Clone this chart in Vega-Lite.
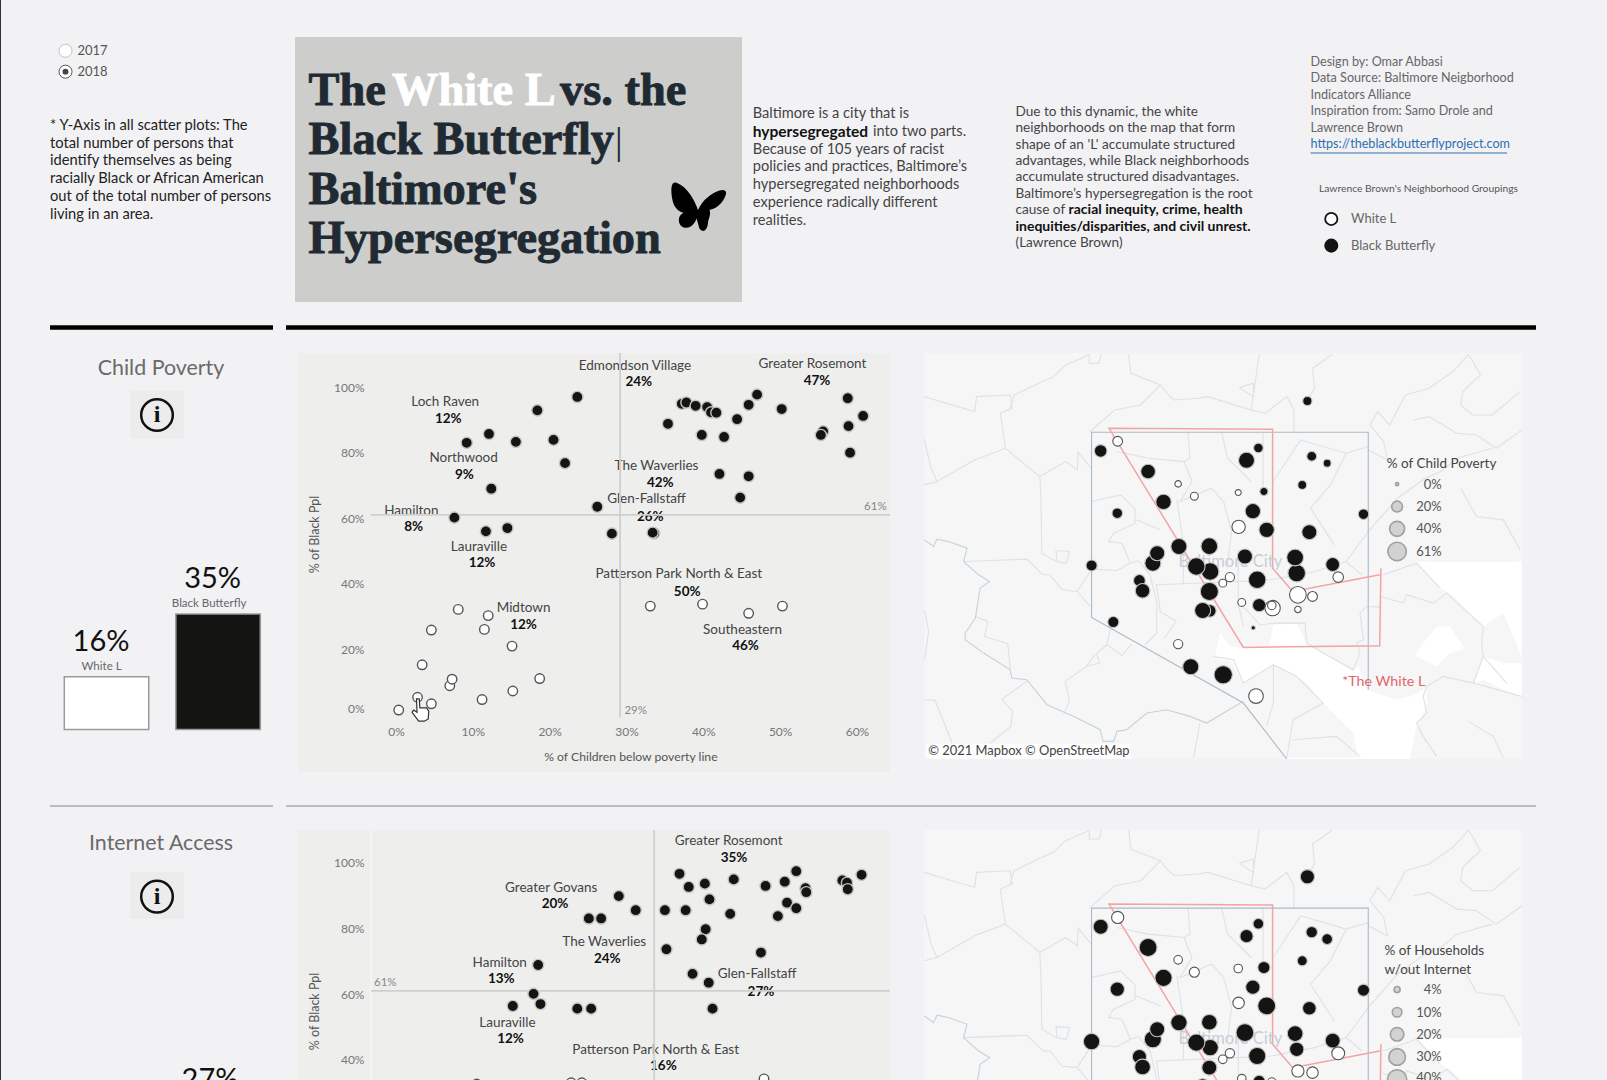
{
"$schema":"https://vega.github.io/schema/vega-lite/v6.json",
"padding":0,"background":"#f2f2f4","spacing":0,
"config":{"view":{"stroke":null},"font":"Lato","text":{"font":"Lato"},"axis":{"labelFont":"Lato","titleFont":"Lato"}},
"datasets":{
"cp":[{"pov":23.6,"blk":97,"g":"B"},{"pov":18.4,"blk":92.9,"g":"B"},{"pov":12.1,"blk":85.7,"g":"B"},{"pov":9.2,"blk":83,"g":"B"},{"pov":15.6,"blk":83.3,"g":"B"},{"pov":20.5,"blk":83.9,"g":"B"},{"pov":22,"blk":76.8,"g":"B"},{"pov":12.4,"blk":69,"g":"B"},{"pov":26.2,"blk":63.5,"g":"B"},{"pov":7.6,"blk":60.2,"g":"B"},{"pov":11.7,"blk":56,"g":"B"},{"pov":14.5,"blk":57,"g":"B"},{"pov":28.1,"blk":55.3,"g":"B"},{"pov":33.6,"blk":55.4,"g":"B"},{"pov":33.4,"blk":55.6,"g":"B"},{"pov":35.4,"blk":88.8,"g":"B"},{"pov":37.2,"blk":94.9,"g":"B"},{"pov":37.8,"blk":95.3,"g":"B"},{"pov":39,"blk":94.3,"g":"B"},{"pov":40.5,"blk":93.9,"g":"B"},{"pov":41,"blk":92.3,"g":"B"},{"pov":41.7,"blk":92.2,"g":"B"},{"pov":39.8,"blk":85.4,"g":"B"},{"pov":42.7,"blk":84.8,"g":"B"},{"pov":44.4,"blk":90.2,"g":"B"},{"pov":45.9,"blk":94.6,"g":"B"},{"pov":47,"blk":97.7,"g":"B"},{"pov":50.2,"blk":93.3,"g":"B"},{"pov":55.6,"blk":86.5,"g":"B"},{"pov":55.3,"blk":85.4,"g":"B"},{"pov":58.8,"blk":96.6,"g":"B"},{"pov":60.8,"blk":91.2,"g":"B"},{"pov":58.9,"blk":88.1,"g":"B"},{"pov":59.1,"blk":80,"g":"B"},{"pov":42.1,"blk":73.5,"g":"B"},{"pov":45.9,"blk":72.8,"g":"B"},{"pov":44.8,"blk":66.3,"g":"B"},
{"pov":8.1,"blk":32.2,"g":"W"},{"pov":12,"blk":30.3,"g":"W"},{"pov":4.6,"blk":25.9,"g":"W"},{"pov":11.5,"blk":26.1,"g":"W"},{"pov":15.1,"blk":21,"g":"W"},{"pov":3.4,"blk":15.3,"g":"W"},{"pov":7,"blk":8.9,"g":"W"},{"pov":7.3,"blk":10.9,"g":"W"},{"pov":18.7,"blk":11.1,"g":"W"},{"pov":15.2,"blk":7.3,"g":"W"},{"pov":11.2,"blk":4.7,"g":"W"},{"pov":2.8,"blk":5.4,"g":"W"},{"pov":4.6,"blk":3.4,"g":"W"},{"pov":0.35,"blk":1.5,"g":"W"},{"pov":33.1,"blk":33.2,"g":"W"},{"pov":39.9,"blk":33.8,"g":"W"},{"pov":45.9,"blk":31,"g":"W"},{"pov":50.3,"blk":33.2,"g":"W"}],
"cpLab":[{"pov":31.1,"blk":106.4,"t":"Edmondson Village","k":"n"},{"pov":31.6,"blk":101.6,"t":"24%","k":"b"},{"pov":54.2,"blk":107.1,"t":"Greater Rosemont","k":"n"},{"pov":54.8,"blk":101.8,"t":"47%","k":"b"},{"pov":6.4,"blk":95.4,"t":"Loch Raven","k":"n"},{"pov":6.8,"blk":90.2,"t":"12%","k":"b"},{"pov":8.8,"blk":78.4,"t":"Northwood","k":"n"},{"pov":8.9,"blk":73.2,"t":"9%","k":"b"},{"pov":2,"blk":62.2,"t":"Hamilton","k":"n"},{"pov":2.3,"blk":57.2,"t":"8%","k":"b"},{"pov":10.8,"blk":51.2,"t":"Lauraville","k":"n"},{"pov":11.2,"blk":46.2,"t":"12%","k":"b"},{"pov":33.9,"blk":75.9,"t":"The Waverlies","k":"n"},{"pov":34.4,"blk":70.8,"t":"42%","k":"b"},{"pov":32.6,"blk":65.8,"t":"Glen-Fallstaff","k":"n"},{"pov":33.1,"blk":60.5,"t":"26%","k":"b"},{"pov":36.8,"blk":42.9,"t":"Patterson Park North & East","k":"n"},{"pov":37.9,"blk":37.6,"t":"50%","k":"b"},{"pov":45.1,"blk":26,"t":"Southeastern","k":"n"},{"pov":45.5,"blk":20.9,"t":"46%","k":"b"},{"pov":16.6,"blk":32.5,"t":"Midtown","k":"n"},{"pov":16.6,"blk":27.4,"t":"12%","k":"b"},{"pov":62.4,"blk":63.5,"t":"61%","k":"r"},{"pov":31.2,"blk":1.3,"t":"29%","k":"r"}],
"ia":[{"pov":36.9,"blk":96.7,"g":"B"},{"pov":38.1,"blk":92.7,"g":"B"},{"pov":40.2,"blk":93.7,"g":"B"},{"pov":43.96,"blk":95,"g":"B"},{"pov":48.1,"blk":93,"g":"B"},{"pov":50.6,"blk":94.3,"g":"B"},{"pov":52.1,"blk":97.5,"g":"B"},{"pov":53.3,"blk":92.3,"g":"B"},{"pov":53.4,"blk":91.1,"g":"B"},{"pov":58.1,"blk":94.7,"g":"B"},{"pov":58.7,"blk":94,"g":"B"},{"pov":58.8,"blk":92,"g":"B"},{"pov":60.6,"blk":96.4,"g":"B"},{"pov":40.8,"blk":88.9,"g":"B"},{"pov":29,"blk":89.9,"g":"B"},{"pov":31.2,"blk":85.6,"g":"B"},{"pov":35,"blk":85.6,"g":"B"},{"pov":37.7,"blk":85.6,"g":"B"},{"pov":43.5,"blk":84.5,"g":"B"},{"pov":49.7,"blk":83.8,"g":"B"},{"pov":50.9,"blk":87.9,"g":"B"},{"pov":52.1,"blk":86.2,"g":"B"},{"pov":25.1,"blk":83.1,"g":"B"},{"pov":26.7,"blk":83.1,"g":"B"},{"pov":40.3,"blk":79.8,"g":"B"},{"pov":39.8,"blk":76.7,"g":"B"},{"pov":35.2,"blk":73.7,"g":"B"},{"pov":47.5,"blk":72.7,"g":"B"},{"pov":18.5,"blk":68.9,"g":"B"},{"pov":38.6,"blk":66.2,"g":"B"},{"pov":40.7,"blk":63.5,"g":"B"},{"pov":17.9,"blk":60.1,"g":"B"},{"pov":18.8,"blk":57,"g":"B"},{"pov":15.2,"blk":56.4,"g":"B"},{"pov":23.6,"blk":55.6,"g":"B"},{"pov":25.4,"blk":55.6,"g":"B"},{"pov":41.2,"blk":55.6,"g":"B"},{"pov":10.5,"blk":32.6,"g":"W"},{"pov":22.8,"blk":33,"g":"W"},{"pov":24.2,"blk":33,"g":"W"},{"pov":47.9,"blk":34.2,"g":"W"}],
"iaLab":[{"pov":43.3,"blk":106.8,"t":"Greater Rosemont","k":"n"},{"pov":44,"blk":101.6,"t":"35%","k":"b"},{"pov":20.2,"blk":92.5,"t":"Greater Govans","k":"n"},{"pov":20.7,"blk":87.4,"t":"20%","k":"b"},{"pov":27.1,"blk":75.8,"t":"The Waverlies","k":"n"},{"pov":27.5,"blk":70.8,"t":"24%","k":"b"},{"pov":13.5,"blk":69.6,"t":"Hamilton","k":"n"},{"pov":13.7,"blk":64.7,"t":"13%","k":"b"},{"pov":47,"blk":66.1,"t":"Glen-Fallstaff","k":"n"},{"pov":47.5,"blk":60.8,"t":"27%","k":"b"},{"pov":14.5,"blk":51.2,"t":"Lauraville","k":"n"},{"pov":14.9,"blk":46.2,"t":"12%","k":"b"},{"pov":33.8,"blk":43.1,"t":"Patterson Park North & East","k":"n"},{"pov":34.8,"blk":38.1,"t":"16%","k":"b"},{"pov":-1.4,"blk":63.4,"t":"61%","k":"r"}],
"water":[
{"p":"a","mx":758,"my":935,"my2":935},{"p":"a","mx":771,"my":865,"my2":945},{"p":"a","mx":796,"my":905,"my2":945},{"p":"a","mx":830,"my":910,"my2":1015},{"p":"a","mx":895,"my":905,"my2":965},{"p":"a","mx":906,"my":840,"my2":960},{"p":"a","mx":965,"my":837,"my2":995},{"p":"a","mx":990,"my":895,"my2":1015},{"p":"a","mx":1032,"my":925,"my2":1075},{"p":"a","mx":1108,"my":980,"my2":1165},{"p":"a","mx":1121,"my":965,"my2":1243},{"p":"a","mx":1142,"my":1035,"my2":1243},{"p":"a","mx":1218,"my":1065,"my2":1243},{"p":"a","mx":1252,"my":1055,"my2":1243},{"p":"a","mx":1268,"my":1045,"my2":1145},{"p":"a","mx":1294,"my":1030,"my2":1085},
{"p":"b","mx":1269,"my":650,"my2":650},{"p":"b","mx":1328,"my":652,"my2":730},{"p":"b","mx":1353,"my":652,"my2":745},{"p":"b","mx":1437,"my":652,"my2":845},{"p":"b","mx":1488,"my":652,"my2":805},{"p":"b","mx":1534,"my":650,"my2":935},
{"p":"c","mx":1412,"my":1015,"my2":1020},{"p":"c","mx":1437,"my":935,"my2":1005},{"p":"c","mx":1488,"my":955,"my2":1035},{"p":"c","mx":1534,"my":955,"my2":1055},
{"p":"d","mx":1268,"my":920,"my2":935},{"p":"d","mx":1319,"my":845,"my2":965},{"p":"d","mx":1353,"my":845,"my2":925},{"p":"d","mx":1387,"my":905,"my2":915},
{"p":"e","mx":920,"my":1175,"my2":1175},{"p":"e","mx":940,"my":1240,"my2":1243},{"p":"e","mx":1125,"my":1240,"my2":1243}],
"roads":[
{"id":1,"mx":22,"my":155},{"id":1,"mx":150,"my":200},{"id":1,"mx":155,"my":155},{"id":1,"mx":240,"my":150},{"id":1,"mx":245,"my":190},{"id":1,"mx":215,"my":205},{"id":1,"mx":228,"my":310},{"id":1,"mx":150,"my":345},{"id":1,"mx":55,"my":410},{"id":1,"mx":22,"my":420},
{"id":2,"mx":22,"my":280},{"id":2,"mx":40,"my":370},{"id":2,"mx":55,"my":410},
{"id":3,"mx":240,"my":190},{"id":3,"mx":250,"my":150},{"id":3,"mx":320,"my":110},{"id":3,"mx":350,"my":95},{"id":3,"mx":380,"my":60},{"id":3,"mx":420,"my":40},{"id":3,"mx":440,"my":28},{"id":3,"mx":440,"my":55},{"id":3,"mx":465,"my":55},{"id":3,"mx":470,"my":28},
{"id":4,"mx":228,"my":310},{"id":4,"mx":315,"my":395},{"id":4,"mx":380,"my":350},{"id":4,"mx":410,"my":375},{"id":4,"mx":412,"my":322},{"id":4,"mx":445,"my":370},
{"id":5,"mx":315,"my":395},{"id":5,"mx":318,"my":465},{"id":5,"mx":320,"my":625},{"id":5,"mx":358,"my":650},{"id":5,"mx":356,"my":617},{"id":5,"mx":390,"my":620},{"id":5,"mx":382,"my":655},{"id":5,"mx":358,"my":650},
{"id":6,"mx":540,"my":28},{"id":6,"mx":545,"my":85},{"id":6,"mx":620,"my":120},{"id":6,"mx":640,"my":150},{"id":6,"mx":655,"my":165},{"id":6,"mx":715,"my":160},{"id":6,"mx":740,"my":155},{"id":6,"mx":850,"my":195},{"id":6,"mx":870,"my":28},
{"id":7,"mx":620,"my":120},{"id":7,"mx":570,"my":180},{"id":7,"mx":505,"my":195},{"id":7,"mx":440,"my":262},
{"id":8,"mx":850,"my":195},{"id":8,"mx":885,"my":205},{"id":8,"mx":940,"my":155},{"id":8,"mx":958,"my":195},{"id":8,"mx":958,"my":262},
{"id":9,"mx":1055,"my":28},{"id":9,"mx":1005,"my":70},{"id":9,"mx":1010,"my":130},{"id":9,"mx":992,"my":168},
{"id":10,"mx":820,"my":128},{"id":10,"mx":855,"my":115},{"id":10,"mx":855,"my":155},{"id":10,"mx":820,"my":128},
{"id":12,"mx":122,"my":650},{"id":12,"mx":282,"my":643},{"id":12,"mx":323,"my":690},{"id":12,"mx":341,"my":690},{"id":12,"mx":371,"my":735},{"id":12,"mx":409,"my":740},{"id":12,"mx":443,"my":785},
{"id":13,"mx":409,"my":740},{"id":13,"mx":443,"my":680},
{"id":14,"mx":1146,"my":315},{"id":14,"mx":1195,"my":345},{"id":14,"mx":1185,"my":290},{"id":14,"mx":1150,"my":240},{"id":14,"mx":1170,"my":200},{"id":14,"mx":1200,"my":240},{"id":14,"mx":1240,"my":150},{"id":14,"mx":1300,"my":130},{"id":14,"mx":1360,"my":80},{"id":14,"mx":1400,"my":28},
{"id":15,"mx":1400,"my":28},{"id":15,"mx":1430,"my":90},{"id":15,"mx":1385,"my":140},{"id":15,"mx":1380,"my":180},{"id":15,"mx":1410,"my":210},{"id":15,"mx":1460,"my":210},{"id":15,"mx":1530,"my":140},
{"id":16,"mx":1260,"my":225},{"id":16,"mx":1300,"my":215},{"id":16,"mx":1370,"my":265},{"id":16,"mx":1420,"my":270},{"id":16,"mx":1470,"my":310},{"id":16,"mx":1535,"my":255},
{"id":17,"mx":1146,"my":560},{"id":17,"mx":1220,"my":460},{"id":17,"mx":1290,"my":400},{"id":17,"mx":1330,"my":380},{"id":17,"mx":1370,"my":340},{"id":17,"mx":1460,"my":310},
{"id":18,"mx":1146,"my":560},{"id":18,"mx":1090,"my":650},
{"id":19,"mx":1380,"my":430},{"id":19,"mx":1420,"my":515},{"id":19,"mx":1488,"my":525},{"id":19,"mx":1530,"my":615},
{"id":20,"mx":447,"my":673},{"id":20,"mx":510,"my":677},{"id":20,"mx":544,"my":655},{"id":20,"mx":523,"my":595},{"id":20,"mx":489,"my":590},{"id":20,"mx":502,"my":565},{"id":20,"mx":556,"my":535},{"id":20,"mx":556,"my":493},{"id":20,"mx":520,"my":450},{"id":20,"mx":446,"my":470},
{"id":41,"mx":559,"my":525},{"id":41,"mx":620,"my":555},
{"id":42,"mx":544,"my":655},{"id":42,"mx":565,"my":648},{"id":42,"mx":594,"my":690},{"id":42,"mx":611,"my":775},{"id":42,"mx":611,"my":865},{"id":42,"mx":581,"my":900},
{"id":21,"mx":510,"my":320},{"id":21,"mx":590,"my":340},{"id":21,"mx":680,"my":350},{"id":21,"mx":700,"my":410},{"id":21,"mx":670,"my":470},{"id":21,"mx":750,"my":430},{"id":21,"mx":780,"my":470},
{"id":22,"mx":690,"my":262},{"id":22,"mx":695,"my":340},{"id":22,"mx":680,"my":350},
{"id":23,"mx":775,"my":262},{"id":23,"mx":790,"my":340},{"id":23,"mx":850,"my":410},
{"id":24,"mx":880,"my":262},{"id":24,"mx":880,"my":430},
{"id":26,"mx":975,"my":285},{"id":26,"mx":1090,"my":325},{"id":26,"mx":1050,"my":420},{"id":26,"mx":1000,"my":490},{"id":26,"mx":1060,"my":600},
{"id":25,"mx":1090,"my":325},{"id":25,"mx":1146,"my":305},
{"id":27,"mx":905,"my":410},{"id":27,"mx":975,"my":285},
{"id":28,"mx":780,"my":470},{"id":28,"mx":800,"my":560},{"id":28,"mx":790,"my":660},
{"id":43,"mx":662,"my":465},{"id":43,"mx":678,"my":595},{"id":43,"mx":678,"my":715},
{"id":29,"mx":607,"my":720},{"id":29,"mx":820,"my":710},{"id":29,"mx":900,"my":705},{"id":29,"mx":1010,"my":680},{"id":29,"mx":1090,"my":650},{"id":29,"mx":1130,"my":690},
{"id":30,"mx":1184,"my":690},{"id":30,"mx":1268,"my":655},{"id":30,"mx":1328,"my":730},
{"id":31,"mx":817,"my":615},{"id":31,"mx":817,"my":775},{"id":31,"mx":830,"my":845},
{"id":32,"mx":610,"my":720},{"id":32,"mx":620,"my":800},{"id":32,"mx":660,"my":830},{"id":32,"mx":630,"my":880},
{"id":33,"mx":152,"my":815},{"id":33,"mx":184,"my":830},{"id":33,"mx":175,"my":875},{"id":33,"mx":234,"my":897},{"id":33,"mx":240,"my":975},
{"id":34,"mx":282,"my":1010},{"id":34,"mx":219,"my":1063},{"id":34,"mx":246,"my":1100},{"id":34,"mx":242,"my":1145},{"id":34,"mx":190,"my":1195},
{"id":35,"mx":1176,"my":755},{"id":35,"mx":1235,"my":775},{"id":35,"mx":1243,"my":750},{"id":35,"mx":1311,"my":775},{"id":35,"mx":1344,"my":745},{"id":35,"mx":1437,"my":845},{"id":35,"mx":1433,"my":895},{"id":35,"mx":1437,"my":935},{"id":35,"mx":1412,"my":1015},{"id":35,"mx":1336,"my":995},{"id":35,"mx":1294,"my":1025},{"id":35,"mx":1285,"my":1055},{"id":35,"mx":1294,"my":1105},{"id":35,"mx":1268,"my":1135},{"id":35,"mx":1285,"my":1175},{"id":35,"mx":1319,"my":1235},
{"id":36,"mx":1399,"my":1130},{"id":36,"mx":1462,"my":1175},{"id":36,"mx":1488,"my":1240},
{"id":37,"mx":1125,"my":805},{"id":37,"mx":1134,"my":885},{"id":37,"mx":1117,"my":895},{"id":37,"mx":1125,"my":925},{"id":37,"mx":1108,"my":975},{"id":37,"mx":1032,"my":925},{"id":37,"mx":990,"my":895},{"id":37,"mx":986,"my":835},{"id":37,"mx":914,"my":835},{"id":37,"mx":872,"my":840},{"id":37,"mx":822,"my":775},
{"id":44,"mx":1125,"my":805},{"id":44,"mx":1142,"my":785},{"id":44,"mx":1176,"my":787},
{"id":38,"mx":754,"my":935},{"id":38,"mx":805,"my":945},{"id":38,"mx":830,"my":1015},{"id":38,"mx":906,"my":960},{"id":38,"mx":965,"my":995},{"id":38,"mx":1032,"my":1075},{"id":38,"mx":956,"my":1125},{"id":38,"mx":940,"my":1240},
{"id":45,"mx":906,"my":960},{"id":45,"mx":906,"my":1075},{"id":45,"mx":889,"my":1145},
{"id":46,"mx":704,"my":1240},{"id":46,"mx":720,"my":1135},
{"id":47,"mx":956,"my":1185},{"id":47,"mx":1066,"my":1175},{"id":47,"mx":1125,"my":1235},
{"id":48,"mx":1412,"my":1015},{"id":48,"mx":1534,"my":1055},
{"id":49,"mx":1437,"my":935},{"id":49,"mx":1496,"my":1015},
{"id":39,"mx":23,"my":795},{"id":39,"mx":34,"my":860},{"id":39,"mx":23,"my":945},
{"id":50,"mx":23,"my":1065},{"id":50,"mx":50,"my":1067},{"id":50,"mx":93,"my":1195},
{"id":51,"mx":493,"my":853},{"id":51,"mx":485,"my":900},{"id":51,"mx":523,"my":932},{"id":51,"mx":548,"my":897},
{"id":52,"mx":485,"my":900},{"id":52,"mx":459,"my":925},{"id":52,"mx":466,"my":955},{"id":52,"mx":434,"my":965},{"id":52,"mx":455,"my":928},
{"id":53,"mx":434,"my":965},{"id":53,"mx":379,"my":1010},{"id":53,"mx":390,"my":1065},{"id":53,"mx":379,"my":1100}],
"river":[{"id":1,"mx":23,"my":585},{"id":1,"mx":46,"my":605},{"id":1,"mx":55,"my":583},{"id":1,"mx":84,"my":590},{"id":1,"mx":131,"my":610},{"id":1,"mx":122,"my":650},{"id":1,"mx":160,"my":690},{"id":1,"mx":188,"my":710},{"id":1,"mx":164,"my":730},{"id":1,"mx":152,"my":820},{"id":1,"mx":126,"my":865},{"id":1,"mx":126,"my":885},{"id":1,"mx":173,"my":925},{"id":1,"mx":240,"my":975},{"id":1,"mx":244,"my":1000},{"id":1,"mx":282,"my":1005},{"id":1,"mx":333,"my":1080},{"id":1,"mx":400,"my":1115},{"id":1,"mx":468,"my":1155},{"id":1,"mx":475,"my":1190},{"id":1,"mx":502,"my":1190},{"id":1,"mx":510,"my":1160},{"id":1,"mx":535,"my":1155},{"id":1,"mx":586,"my":1105},{"id":1,"mx":636,"my":1095},{"id":1,"mx":695,"my":1115},{"id":1,"mx":737,"my":1135},{"id":1,"mx":780,"my":1105},{"id":1,"mx":830,"my":1070}],
"city":[{"id":1,"mx":1146,"my":1035},{"id":1,"mx":1146,"my":262},{"id":1,"mx":446,"my":262},{"id":1,"mx":446,"my":818},{"id":1,"mx":830,"my":1075},{"id":1,"mx":940,"my":1243}],
"ell":[{"id":1,"mx":1175,"my":690},{"id":1,"mx":955,"my":740},{"id":1,"mx":904,"my":670},{"id":1,"mx":904,"my":253},{"id":1,"mx":490,"my":250},{"id":1,"mx":830,"my":908},{"id":1,"mx":1175,"my":903},{"id":1,"mx":1178,"my":670}],
"m1":[{"mx":992,"my":168,"v":13.7,"g":"B"},{"mx":868,"my":309,"v":15,"g":"B"},{"mx":838,"my":346,"v":46,"g":"B"},{"mx":1003,"my":334,"v":16,"g":"B"},{"mx":1042,"my":355,"v":9.5,"g":"B"},{"mx":469,"my":318,"v":27.5,"g":"B"},{"mx":589,"my":380,"v":38,"g":"B"},{"mx":628,"my":471,"v":42,"g":"B"},{"mx":882,"my":440,"v":10.5,"g":"B"},{"mx":979,"my":420,"v":12.6,"g":"B"},{"mx":854,"my":499,"v":42,"g":"B"},{"mx":1134,"my":508,"v":18.7,"g":"B"},{"mx":511,"my":505,"v":18.7,"g":"B"},{"mx":889,"my":555,"v":42,"g":"B"},{"mx":997,"my":562,"v":40,"g":"B"},{"mx":744,"my":604,"v":50,"g":"B"},{"mx":667,"my":605,"v":46,"g":"B"},{"mx":601,"my":655,"v":46,"g":"B"},{"mx":612,"my":625,"v":40,"g":"B"},{"mx":834,"my":635,"v":40,"g":"B"},{"mx":965,"my":685,"v":55,"g":"B"},{"mx":961,"my":638,"v":50,"g":"B"},{"mx":1056,"my":659,"v":34,"g":"B"},{"mx":446,"my":662,"v":21,"g":"B"},{"mx":746,"my":680,"v":55,"g":"B"},{"mx":711,"my":665,"v":55,"g":"B"},{"mx":865,"my":705,"v":55,"g":"B"},{"mx":567,"my":707,"v":24,"g":"B"},{"mx":575,"my":738,"v":38,"g":"B"},{"mx":744,"my":740,"v":59,"g":"B"},{"mx":745,"my":798,"v":28,"g":"B"},{"mx":727,"my":797,"v":46,"g":"B"},{"mx":870,"my":781,"v":31,"g":"B"},{"mx":501,"my":832,"v":21,"g":"B"},{"mx":855,"my":849,"v":1.5,"g":"B"},{"mx":697,"my":966,"v":46,"g":"B"},{"mx":779,"my":990,"v":60,"g":"B"},
{"mx":512,"my":289,"v":16,"g":"W"},{"mx":665,"my":417,"v":6,"g":"W"},{"mx":706,"my":454,"v":9.5,"g":"W"},{"mx":817,"my":443,"v":4.7,"g":"W"},{"mx":818,"my":546,"v":31,"g":"W"},{"mx":796,"my":697,"v":14,"g":"W"},{"mx":778,"my":715,"v":9.5,"g":"W"},{"mx":826,"my":773,"v":9.5,"g":"W"},{"mx":904,"my":790,"v":42,"g":"W"},{"mx":902,"my":782,"v":11.5,"g":"W"},{"mx":968,"my":750,"v":50,"g":"W"},{"mx":1005,"my":755,"v":16,"g":"W"},{"mx":1070,"my":697,"v":18.7,"g":"W"},{"mx":968,"my":794,"v":6,"g":"W"},{"mx":665,"my":898,"v":14,"g":"W"},{"mx":862,"my":1054,"v":38,"g":"W"}],
"m2":[{"mx":992,"my":168,"v":22.1,"g":"B"},{"mx":868,"my":309,"v":12.5,"g":"B"},{"mx":838,"my":346,"v":18.9,"g":"B"},{"mx":1003,"my":334,"v":14.2,"g":"B"},{"mx":1042,"my":355,"v":12.5,"g":"B"},{"mx":469,"my":318,"v":24.4,"g":"B"},{"mx":589,"my":380,"v":34.6,"g":"B"},{"mx":628,"my":471,"v":31.9,"g":"B"},{"mx":882,"my":440,"v":16,"g":"B"},{"mx":979,"my":420,"v":10.9,"g":"B"},{"mx":854,"my":499,"v":22.1,"g":"B"},{"mx":1134,"my":508,"v":16,"g":"B"},{"mx":511,"my":505,"v":22.1,"g":"B"},{"mx":889,"my":555,"v":34.6,"g":"B"},{"mx":997,"my":562,"v":20,"g":"B"},{"mx":744,"my":604,"v":26.8,"g":"B"},{"mx":667,"my":605,"v":29.3,"g":"B"},{"mx":601,"my":655,"v":31.9,"g":"B"},{"mx":612,"my":625,"v":24.4,"g":"B"},{"mx":834,"my":635,"v":34.6,"g":"B"},{"mx":965,"my":685,"v":22.1,"g":"B"},{"mx":961,"my":638,"v":26.8,"g":"B"},{"mx":1056,"my":659,"v":24.4,"g":"B"},{"mx":446,"my":662,"v":29.3,"g":"B"},{"mx":746,"my":680,"v":29.3,"g":"B"},{"mx":711,"my":665,"v":31.9,"g":"B"},{"mx":865,"my":705,"v":31.9,"g":"B"},{"mx":567,"my":707,"v":22.1,"g":"B"},{"mx":575,"my":738,"v":26.8,"g":"B"},{"mx":744,"my":740,"v":24.4,"g":"B"},{"mx":727,"my":797,"v":26.8,"g":"B"},{"mx":870,"my":781,"v":16,"g":"B"},
{"mx":512,"my":290,"v":16,"g":"W"},{"mx":665,"my":417,"v":8,"g":"W"},{"mx":706,"my":454,"v":10.9,"g":"W"},{"mx":817,"my":443,"v":8,"g":"W"},{"mx":818,"my":546,"v":14.2,"g":"W"},{"mx":796,"my":697,"v":9.4,"g":"W"},{"mx":778,"my":715,"v":8,"g":"W"},{"mx":826,"my":773,"v":8,"g":"W"},{"mx":904,"my":790,"v":12.5,"g":"W"},{"mx":902,"my":782,"v":6.7,"g":"W"},{"mx":968,"my":750,"v":16,"g":"W"},{"mx":1005,"my":755,"v":14.2,"g":"W"},{"mx":1070,"my":697,"v":17.9,"g":"W"}]
},
"hconcat":[
{"width":1,"height":1080,"data":{"values":[{"a":0,"b":1}]},"mark":{"type":"rule","color":"#333333","strokeWidth":1.5,"clip":true},"encoding":{"y":{"field":"a","type":"quantitative","scale":{"domain":[0,1]},"axis":null},"y2":{"field":"b"}}},
{"spacing":0,"vconcat":[
{"bounds":"flush","spacing":0,"hconcat":[
{"width":294,"height":325,"encoding":{"x":{"field":"col","type":"quantitative","scale":{"domain":[0,294]},"axis":null},"y":{"field":"line","type":"quantitative","scale":{"domain":[12.24,-6.12]},"axis":null}},
"layer":[
{"data":{"values":[{"col":49,"line":1,"t":"* Y-Axis in all scatter plots: The"},{"col":49,"line":2,"t":"total number of persons that"},{"col":49,"line":3,"t":"identify themselves as being"},{"col":49,"line":4,"t":"racially Black or African American"},{"col":49,"line":5,"t":"out of the total number of persons"},{"col":49,"line":6,"t":"living in an area."}]},"mark":{"type":"text","align":"left","baseline":"middle","fontSize":14.7,"color":"#222222"},"encoding":{"text":{"field":"t"}}},
{"data":{"values":[{"col":76.5,"line":-3.25,"t":"2017"},{"col":76.5,"line":-2.07,"t":"2018"}]},"mark":{"type":"text","align":"left","baseline":"middle","fontSize":13,"color":"#555555"},"encoding":{"text":{"field":"t"}}},
{"data":{"values":[{"col":64.5,"line":-3.25,"s":"off"},{"col":64.5,"line":-2.07,"s":"on"}]},"mark":{"type":"point","filled":false,"size":170,"strokeWidth":1,"fill":"#ffffff","fillOpacity":1},"encoding":{"stroke":{"field":"s","type":"nominal","scale":{"domain":["off","on"],"range":["#c4c4c4","#555555"]},"legend":null}}},
{"data":{"values":[{"col":64.5,"line":-2.07}]},"mark":{"type":"circle","size":34,"color":"#444444","opacity":1}}
]},
{"width":447,"height":325,"encoding":{"x":{"field":"col","type":"quantitative","scale":{"domain":[0,447]},"axis":null},"y":{"field":"line","type":"quantitative","scale":{"domain":[5.462,-1.13]},"axis":null}},
"layer":[
{"data":{"values":[{"col":0,"col2":447,"line":-0.379,"line2":4.996}]},"mark":{"type":"rect","color":"#cdcdcb"},"encoding":{"x2":{"field":"col2"},"y2":{"field":"line2"}}},
{"data":{"values":[{"col":13.6,"line":1,"t":"The"},{"col":265,"line":1,"t":"vs. the"},{"col":13.6,"line":2,"t":"Black Butterfly"},{"col":13.6,"line":3,"t":"Baltimore's"},{"col":13.6,"line":4,"t":"Hypersegregation"}]},"mark":{"type":"text","align":"left","baseline":"alphabetic","font":"Liberation Serif","fontWeight":"bold","fontSize":46.4,"fill":"#1f2a33","stroke":"#1f2a33","strokeWidth":0.9},"encoding":{"text":{"field":"t"}}},
{"data":{"values":[{"col":97,"line":1,"t":"White L"}]},"mark":{"type":"text","align":"left","baseline":"alphabetic","font":"Liberation Serif","fontWeight":"bold","fontSize":46.4,"fill":"#ffffff","stroke":"#ffffff","strokeWidth":0.9},"encoding":{"text":{"field":"t"}}},
{"data":{"values":[{"col":320,"line":2,"t":"|"}]},"mark":{"type":"text","align":"left","baseline":"alphabetic","font":"Liberation Serif","fontSize":38,"fill":"#1f2a33"},"encoding":{"text":{"field":"t"}}},
{"data":{"values":[{"col":403,"line":3.07}]},"mark":{"type":"point","filled":true,"opacity":1,"color":"#000000","size":3300,"shape":"M0,0.1 C-0.1,-0.2 -0.35,-0.7 -0.75,-0.85 C-0.95,-0.9 -0.95,-0.6 -0.9,-0.3 C-0.85,0 -0.7,0.15 -0.5,0.2 C-0.75,0.3 -0.7,0.7 -0.45,0.72 C-0.25,0.75 -0.1,0.55 -0.05,0.4 L0.05,0.75 C0.2,0.95 0.35,0.75 0.35,0.5 C0.4,0.35 0.45,0.2 0.4,0.1 C0.7,0.05 0.95,-0.25 0.98,-0.5 C0.95,-0.7 0.6,-0.55 0.35,-0.35 C0.2,-0.25 0.1,-0.1 0,0.1 Z"}}
]},
{"width":273,"height":325,"encoding":{"x":{"field":"col","type":"quantitative","scale":{"domain":[0,273]},"axis":null},"y":{"field":"line","type":"quantitative","scale":{"domain":[12.8,-5.35]},"axis":null}},
"layer":[
{"data":{"values":[{"col":10.8,"line":1,"t":"Baltimore is a city that is"},{"col":131,"line":2,"t":"into two parts."},{"col":10.8,"line":3,"t":"Because of 105 years of racist"},{"col":10.8,"line":4,"t":"policies and practices, Baltimore’s"},{"col":10.8,"line":5,"t":"hypersegregated neighborhoods"},{"col":10.8,"line":6,"t":"experience radically different"},{"col":10.8,"line":7,"t":"realities."}]},"mark":{"type":"text","align":"left","baseline":"middle","fontSize":14.6,"color":"#444444"},"encoding":{"text":{"field":"t"}}},
{"data":{"values":[{"col":10.8,"line":2,"t":"hypersegregated"}]},"mark":{"type":"text","align":"left","baseline":"middle","fontSize":15.5,"fontWeight":"bold","color":"#111111"},"encoding":{"text":{"field":"t"}}}
]},
{"width":295,"height":325,"encoding":{"x":{"field":"col","type":"quantitative","scale":{"domain":[0,295]},"axis":null},"y":{"field":"line","type":"quantitative","scale":{"domain":[14,-5.81]},"axis":null}},
"layer":[
{"data":{"values":[{"col":0.5,"line":1,"t":"Due to this dynamic, the white"},{"col":0.5,"line":2,"t":"neighborhoods on the map that form"},{"col":0.5,"line":3,"t":"shape of an 'L' accumulate structured"},{"col":0.5,"line":4,"t":"advantages, while Black neighborhoods"},{"col":0.5,"line":5,"t":"accumulate structured disadvantages."},{"col":0.5,"line":6,"t":"Baltimore’s hypersegregation is the root"},{"col":0.5,"line":7,"t":"cause of"},{"col":0.5,"line":9,"t":"(Lawrence Brown)"}]},"mark":{"type":"text","align":"left","baseline":"middle","fontSize":13.6,"color":"#444444"},"encoding":{"text":{"field":"t"}}},
{"data":{"values":[{"col":53.6,"line":7,"t":"racial inequity, crime, health"},{"col":0.5,"line":8,"t":"inequities/disparities, and civil unrest."}]},"mark":{"type":"text","align":"left","baseline":"middle","fontSize":14,"fontWeight":"bold","color":"#111111"},"encoding":{"text":{"field":"t"}}}
]},
{"width":296,"height":325,"encoding":{"x":{"field":"col","type":"quantitative","scale":{"domain":[0,296]},"axis":null},"y":{"field":"line","type":"quantitative","scale":{"domain":[17.04,-2.78]},"axis":null}},
"layer":[
{"data":{"values":[{"col":0.5,"line":1,"t":"Design by: Omar Abbasi"},{"col":0.5,"line":2,"t":"Data Source: Baltimore Neigborhood"},{"col":0.5,"line":3,"t":"Indicators Alliance"},{"col":0.5,"line":4,"t":"Inspiration from: Samo Drole and"},{"col":0.5,"line":5,"t":"Lawrence Brown"}]},"mark":{"type":"text","align":"left","baseline":"middle","fontSize":12.6,"color":"#666666"},"encoding":{"text":{"field":"t"}}},
{"data":{"values":[{"col":0.5,"line":6,"t":"https://theblackbutterflyproject.com"}]},"mark":{"type":"text","align":"left","baseline":"middle","fontSize":12.6,"color":"#2d6fb0"},"encoding":{"text":{"field":"t"}}},
{"data":{"values":[{"col":0.5,"col2":197,"line":6.55}]},"mark":{"type":"rule","color":"#2d6fb0","strokeWidth":1},"encoding":{"x2":{"field":"col2"}}},
{"data":{"values":[{"col":9,"line":8.77,"t":"Lawrence Brown's Neighborhood Groupings"}]},"mark":{"type":"text","align":"left","baseline":"middle","fontSize":10.3,"color":"#555555"},"encoding":{"text":{"field":"t"}}},
{"data":{"values":[{"col":41,"line":10.57,"t":"White L"},{"col":41,"line":12.2,"t":"Black Butterfly"}]},"mark":{"type":"text","align":"left","baseline":"middle","fontSize":13,"color":"#666666"},"encoding":{"text":{"field":"t"}}},
{"data":{"values":[{"col":21.3,"line":10.57,"g":"W"},{"col":21.3,"line":12.2,"g":"B"}]},"mark":{"type":"circle","size":150,"opacity":1,"stroke":"#141412","strokeWidth":1.8},"encoding":{"fill":{"field":"g","type":"nominal","scale":{"domain":["B","W"],"range":["#141412","#ffffff"]},"legend":null}}}
]}
]},
{"width":1606,"height":27,"data":{"values":[{"from":49,"to":272},{"from":285,"to":1535}]},"mark":{"type":"rule","color":"#000000","strokeWidth":4.5},"encoding":{"x":{"field":"from","type":"quantitative","scale":{"domain":[0,1606]},"axis":null},"x2":{"field":"to"},"y":{"datum":2.5,"type":"quantitative","scale":{"domain":[27,0]},"axis":null}}},
{"bounds":"flush","spacing":34,"hconcat":[
{"width":263,"height":419,"resolve":{"scale":{"x":"independent","y":"independent"}},"layer":[
{"data":{"values":[{"g":"White L","pct":16,"lab":"16%"},{"g":"Black Butterfly","pct":35,"lab":"35%"}]},
"encoding":{"x":{"field":"g","type":"nominal","sort":["White L","Black Butterfly"],"scale":{"range":[63.3,259.3],"paddingInner":0.243,"paddingOuter":0},"axis":null},"y":{"field":"pct","type":"quantitative","scale":{"domain":[-12.85,114.1]},"axis":null}},
"layer":[
{"mark":{"type":"bar","stroke":"#9a9a9a","strokeWidth":1.5},"encoding":{"fill":{"field":"g","type":"nominal","scale":{"domain":["Black Butterfly","White L"],"range":["#161614","#ffffff"]},"legend":null}}},
{"mark":{"type":"text","fontSize":29,"baseline":"middle","dy":-35,"dx":-5.5,"color":"#111111"},"encoding":{"text":{"field":"lab"}}},
{"transform":[{"filter":"datum.pct==16"}],"mark":{"type":"text","fontSize":11.5,"baseline":"middle","dy":-10,"dx":-5,"color":"#666666"},"encoding":{"text":{"field":"g"}}},
{"transform":[{"filter":"datum.pct==35"}],"mark":{"type":"text","fontSize":11.5,"baseline":"middle","dy":-10,"dx":-9,"color":"#666666"},"encoding":{"text":{"field":"g"}}}
]},
{"encoding":{"x":{"field":"col","type":"quantitative","scale":{"domain":[0,263]},"axis":null},"y":{"field":"row","type":"quantitative","scale":{"domain":[419,0]},"axis":null}},
"layer":[
{"data":{"values":[{"col":129,"col2":183,"row":37.5,"row2":85.6}]},"mark":{"type":"rect","color":"#ececec"},"encoding":{"x2":{"field":"col2"},"y2":{"field":"row2"}}},
{"data":{"values":[{"col":160,"row":16,"t":"Child Poverty"}]},"mark":{"type":"text","fontSize":21.4,"baseline":"middle","color":"#6a6a6a"},"encoding":{"text":{"field":"t"}}},
{"data":{"values":[{"col":156,"row":62}]},"mark":{"type":"point","size":1000,"filled":false,"opacity":1,"stroke":"#111111","strokeWidth":2.5}},
{"data":{"values":[{"col":156,"row":62,"t":"i"}]},"mark":{"type":"text","font":"Liberation Serif","fontWeight":"bold","fontSize":24,"baseline":"middle","color":"#111111"},"encoding":{"text":{"field":"t"}}}
]}
]},
{"width":592,"height":419,"view":{"fill":"#eeeeed","stroke":null},
"encoding":{"x":{"field":"pov","type":"quantitative","scale":{"domain":[-12.76,64.3]},"axis":{"values":[0,10,20,30,40,50,60],"labelExpr":"datum.value+'%'","offset":-46,"domain":false,"ticks":false,"grid":false,"labelPadding":0,"labelFontSize":12,"labelColor":"#777777","labelBaseline":"top","title":"% of Children below poverty line","titleFontSize":12.2,"titleFontWeight":"normal","titleColor":"#555555","titleX":332.4,"titleY":30,"titleBaseline":"middle"}},
"y":{"field":"blk","type":"quantitative","scale":{"domain":[-17.4,110.4]},"axis":{"values":[2,20,40,60,80,100],"labelExpr":"datum.value==2?'0%':datum.value+'%'","offset":-69,"domain":false,"ticks":false,"grid":false,"labelPadding":3,"labelFontSize":12,"labelColor":"#777777","title":"% of Black Ppl","titleFontSize":12.5,"titleFontWeight":"normal","titleColor":"#555555","titleX":-53,"titleY":181,"titleBaseline":"middle"}}},
"layer":[
{"data":{"name":"cpLab"},"transform":[{"filter":"datum.k=='n'"}],"mark":{"type":"text","fontSize":13.5,"baseline":"middle","color":"#444444","clip":true},"encoding":{"text":{"field":"t"}}},
{"data":{"name":"cpLab"},"transform":[{"filter":"datum.k=='b'"}],"mark":{"type":"text","fontSize":13.5,"fontWeight":"bold","baseline":"middle","color":"#111111","clip":true},"encoding":{"text":{"field":"t"}}},
{"data":{"name":"cpLab"},"transform":[{"filter":"datum.k=='r'"}],"mark":{"type":"text","fontSize":11.5,"baseline":"middle","color":"#888888","clip":true},"encoding":{"text":{"field":"t"}}},
{"data":{"values":[{"pov":-3.26,"pov2":64.3,"blk":61}]},"mark":{"type":"rule","color":"#cfcfcf","strokeWidth":1.8},"encoding":{"x2":{"field":"pov2"}}},
{"data":{"values":[{"pov":29.17,"blk":110.4,"blk2":-0.8}]},"mark":{"type":"rule","color":"#cfcfcf","strokeWidth":1.8},"encoding":{"y2":{"field":"blk2"}}},
{"data":{"name":"cp"},"mark":{"type":"circle","opacity":1,"strokeWidth":1.4,"clip":true},"encoding":{"size":{"field":"g","type":"ordinal","scale":{"domain":["B","W"],"range":[125,90]},"legend":null},"fill":{"field":"g","type":"nominal","scale":{"domain":["B","W"],"range":["#141412","#ffffff"]},"legend":null},"stroke":{"field":"g","type":"nominal","scale":{"domain":["B","W"],"range":["#141412","#222222"]},"legend":null}}},
{"data":{"values":[{"pov":3.1,"blk":1.5}]},"mark":{"type":"point","filled":true,"opacity":1,"fill":"#ffffff","stroke":"#333333","strokeWidth":1.2,"size":500,"shape":"M-0.3,-1 L-0.05,-1 L0,-0.2 L0.6,-0.2 L0.8,0.1 L0.75,0.8 L0.4,1 L-0.1,1 L-0.7,0.2 L-0.55,0 L-0.25,0.2 Z"}}
]},
{"width":598,"height":406,"view":{"fill":"#f6f6f6","stroke":null},
"encoding":{"x":{"field":"mx","type":"quantitative","scale":{"domain":[22,1535]},"axis":null},"y":{"field":"my","type":"quantitative","scale":{"domain":[1243,24]},"axis":null}},
"layer":[
{"data":{"name":"water"},"mark":{"type":"area","color":"#ffffff","opacity":1,"clip":true},"encoding":{"y2":{"field":"my2"},"detail":{"field":"p"}}},
{"data":{"name":"roads"},"mark":{"type":"line","order":false,"color":"#dbe2e8","strokeWidth":1.1,"clip":true},"encoding":{"detail":{"field":"id"}}},
{"data":{"name":"river"},"mark":{"type":"line","order":false,"color":"#c3d2dd","strokeWidth":1.1,"clip":true},"encoding":{"detail":{"field":"id"}}},
{"data":{"name":"city"},"mark":{"type":"line","order":false,"color":"#a9bac7","strokeWidth":1.1,"clip":true},"encoding":{"detail":{"field":"id"}}},
{"data":{"name":"ell"},"mark":{"type":"line","order":false,"color":"#f4a3a3","strokeWidth":1.5,"clip":true},"encoding":{"detail":{"field":"id"}}},
{"data":{"values":[{"mx":797,"my":653,"t":"Baltimore City"}]},"mark":{"type":"text","fontSize":16.5,"baseline":"middle","color":"#c5ced6","clip":true},"encoding":{"text":{"field":"t"}}},
{"data":{"name":"m1"},"mark":{"type":"circle","opacity":1,"strokeWidth":1.1,"clip":true},"encoding":{"size":{"field":"v","type":"quantitative","scale":{"domain":[0,61],"range":[10,340]},"legend":null},"fill":{"field":"g","type":"nominal","scale":{"domain":["B","W"],"range":["#141412","#ffffff"]},"legend":null},"stroke":{"field":"g","type":"nominal","scale":{"domain":["B","W"],"range":["#333333","#555555"]},"legend":null}}},
{"data":{"values":[{"mx":1219,"my":418,"v":0},{"mx":1219,"my":485,"v":20},{"mx":1219,"my":552,"v":40},{"mx":1219,"my":620,"v":61}]},"mark":{"type":"circle","opacity":1,"fill":"#d2d2d2","stroke":"#a0a0a0","strokeWidth":1.6,"clip":true},"encoding":{"size":{"field":"v","type":"quantitative","scale":{"domain":[0,61],"range":[10,340]},"legend":null}}},
{"data":{"values":[{"mx":1332,"my":420,"t":"0%"},{"mx":1332,"my":487,"t":"20%"},{"mx":1332,"my":553,"t":"40%"},{"mx":1332,"my":620,"t":"61%"}]},"mark":{"type":"text","align":"right","baseline":"middle","fontSize":13,"color":"#555555","clip":true},"encoding":{"text":{"field":"t"}}},
{"data":{"values":[{"mx":1193,"my":357,"t":"% of Child Poverty"}]},"mark":{"type":"text","align":"left","baseline":"middle","fontSize":13.5,"color":"#444444","clip":true},"encoding":{"text":{"field":"t"}}},
{"data":{"values":[{"mx":1080,"my":1012,"t":"*The White L"}]},"mark":{"type":"text","align":"left","baseline":"middle","fontSize":14.3,"color":"#e0666a","clip":true},"encoding":{"text":{"field":"t"}}},
{"data":{"values":[{"mx":28,"mx2":545,"my":1197,"my2":1243}]},"mark":{"type":"rect","color":"#ffffff","opacity":0.75},"encoding":{"x2":{"field":"mx2"},"y2":{"field":"my2"}}},
{"data":{"values":[{"mx":33,"my":1219,"t":"© 2021 Mapbox  © OpenStreetMap"}]},"mark":{"type":"text","align":"left","baseline":"middle","fontSize":12.9,"color":"#444444","clip":true},"encoding":{"text":{"field":"t"}}}
]}
]},
{"width":1606,"height":57,"data":{"values":[{"from":49,"to":272},{"from":285,"to":1535}]},"mark":{"type":"rule","color":"#a8a8a8","strokeWidth":1.5},"encoding":{"x":{"field":"from","type":"quantitative","scale":{"domain":[0,1606]},"axis":null},"x2":{"field":"to"},"y":{"datum":34,"type":"quantitative","scale":{"domain":[57,0]},"axis":null}}},
{"bounds":"flush","spacing":34,"hconcat":[
{"width":263,"height":252,"encoding":{"x":{"field":"col","type":"quantitative","scale":{"domain":[0,263]},"axis":null},"y":{"field":"row","type":"quantitative","scale":{"domain":[252,0]},"axis":null}},
"layer":[
{"data":{"values":[{"col":129,"col2":183,"row":41.6,"row2":89}]},"mark":{"type":"rect","color":"#ececec"},"encoding":{"x2":{"field":"col2"},"y2":{"field":"row2"}}},
{"data":{"values":[{"col":160,"row":14,"t":"Internet Access"}]},"mark":{"type":"text","fontSize":21.4,"baseline":"middle","color":"#6a6a6a"},"encoding":{"text":{"field":"t"}}},
{"data":{"values":[{"col":156,"row":66.6}]},"mark":{"type":"point","size":1000,"filled":false,"opacity":1,"stroke":"#111111","strokeWidth":2.5}},
{"data":{"values":[{"col":156,"row":66.6,"t":"i"}]},"mark":{"type":"text","font":"Liberation Serif","fontWeight":"bold","fontSize":24,"baseline":"middle","color":"#111111"},"encoding":{"text":{"field":"t"}}},
{"data":{"values":[{"col":209,"row":250,"t":"27%"}]},"mark":{"type":"text","fontSize":29,"baseline":"middle","color":"#111111","clip":true},"encoding":{"text":{"field":"t"}}}
]},
{"width":592,"height":252,"view":{"fill":"#eeeeed","stroke":null},
"encoding":{"x":{"field":"pov","type":"quantitative","scale":{"domain":[-12.76,64.3]},"axis":null},
"y":{"field":"blk","type":"quantitative","scale":{"domain":[33.23,110.06]},"axis":{"values":[40,60,80,100],"labelExpr":"datum.value+'%'","offset":-69,"domain":false,"ticks":false,"grid":false,"labelPadding":3,"labelFontSize":12,"labelColor":"#777777","title":"% of Black Ppl","titleFontSize":12.5,"titleFontWeight":"normal","titleColor":"#555555","titleX":-53,"titleY":181,"titleBaseline":"middle"}}},
"layer":[
{"data":{"values":[{"pov":-3.26,"blk":110.06,"blk2":33.23}]},"mark":{"type":"rule","color":"#f8f8f8","strokeWidth":1.2},"encoding":{"y2":{"field":"blk2"}}},
{"data":{"name":"iaLab"},"transform":[{"filter":"datum.k=='n'"}],"mark":{"type":"text","fontSize":13.5,"baseline":"middle","color":"#444444","clip":true},"encoding":{"text":{"field":"t"}}},
{"data":{"name":"iaLab"},"transform":[{"filter":"datum.k=='b'"}],"mark":{"type":"text","fontSize":13.5,"fontWeight":"bold","baseline":"middle","color":"#111111","clip":true},"encoding":{"text":{"field":"t"}}},
{"data":{"name":"iaLab"},"transform":[{"filter":"datum.k=='r'"}],"mark":{"type":"text","fontSize":11.5,"baseline":"middle","color":"#888888","clip":true},"encoding":{"text":{"field":"t"}}},
{"data":{"values":[{"pov":-3.26,"pov2":64.3,"blk":61}]},"mark":{"type":"rule","color":"#cfcfcf","strokeWidth":1.8},"encoding":{"x2":{"field":"pov2"}}},
{"data":{"values":[{"pov":33.6,"blk":110.06,"blk2":33.23}]},"mark":{"type":"rule","color":"#cfcfcf","strokeWidth":1.8},"encoding":{"y2":{"field":"blk2"}}},
{"data":{"name":"ia"},"mark":{"type":"circle","opacity":1,"strokeWidth":1.4,"clip":true},"encoding":{"size":{"field":"g","type":"ordinal","scale":{"domain":["B","W"],"range":[125,90]},"legend":null},"fill":{"field":"g","type":"nominal","scale":{"domain":["B","W"],"range":["#141412","#ffffff"]},"legend":null},"stroke":{"field":"g","type":"nominal","scale":{"domain":["B","W"],"range":["#141412","#222222"]},"legend":null}}}
]},
{"width":598,"height":252,"view":{"fill":"#f6f6f6","stroke":null},
"encoding":{"x":{"field":"mx","type":"quantitative","scale":{"domain":[22,1535]},"axis":null},"y":{"field":"my","type":"quantitative","scale":{"domain":[783,28]},"axis":null}},
"layer":[
{"data":{"name":"water"},"mark":{"type":"area","color":"#ffffff","opacity":1,"clip":true},"encoding":{"y2":{"field":"my2"},"detail":{"field":"p"}}},
{"data":{"name":"roads"},"mark":{"type":"line","order":false,"color":"#dbe2e8","strokeWidth":1.1,"clip":true},"encoding":{"detail":{"field":"id"}}},
{"data":{"name":"river"},"mark":{"type":"line","order":false,"color":"#c3d2dd","strokeWidth":1.1,"clip":true},"encoding":{"detail":{"field":"id"}}},
{"data":{"name":"city"},"mark":{"type":"line","order":false,"color":"#a9bac7","strokeWidth":1.1,"clip":true},"encoding":{"detail":{"field":"id"}}},
{"data":{"name":"ell"},"mark":{"type":"line","order":false,"color":"#f4a3a3","strokeWidth":1.5,"clip":true},"encoding":{"detail":{"field":"id"}}},
{"data":{"values":[{"mx":797,"my":653,"t":"Baltimore City"}]},"mark":{"type":"text","fontSize":16.5,"baseline":"middle","color":"#c5ced6","clip":true},"encoding":{"text":{"field":"t"}}},
{"data":{"name":"m2"},"mark":{"type":"circle","opacity":1,"strokeWidth":1.1,"clip":true},"encoding":{"size":{"field":"v","type":"quantitative","scale":{"domain":[0,40],"range":[0,370]},"legend":null},"fill":{"field":"g","type":"nominal","scale":{"domain":["B","W"],"range":["#141412","#ffffff"]},"legend":null},"stroke":{"field":"g","type":"nominal","scale":{"domain":["B","W"],"range":["#333333","#555555"]},"legend":null}}},
{"data":{"values":[{"mx":1219,"my":506,"v":4},{"mx":1219,"my":574,"v":10},{"mx":1219,"my":640,"v":20},{"mx":1219,"my":708,"v":30},{"mx":1219,"my":775,"v":40}]},"mark":{"type":"circle","opacity":1,"fill":"#d2d2d2","stroke":"#a0a0a0","strokeWidth":1.6,"clip":true},"encoding":{"size":{"field":"v","type":"quantitative","scale":{"domain":[0,40],"range":[0,370]},"legend":null}}},
{"data":{"values":[{"mx":1332,"my":508,"t":"4%"},{"mx":1332,"my":575,"t":"10%"},{"mx":1332,"my":641,"t":"20%"},{"mx":1332,"my":708,"t":"30%"},{"mx":1332,"my":772,"t":"40%"}]},"mark":{"type":"text","align":"right","baseline":"middle","fontSize":13,"color":"#555555","clip":true},"encoding":{"text":{"field":"t"}}},
{"data":{"values":[{"mx":1187,"my":392,"t":"% of Households"},{"mx":1187,"my":446,"t":"w/out Internet"}]},"mark":{"type":"text","align":"left","baseline":"middle","fontSize":13.5,"color":"#444444","clip":true},"encoding":{"text":{"field":"t"}}}
]}
]}
]}
]
}
